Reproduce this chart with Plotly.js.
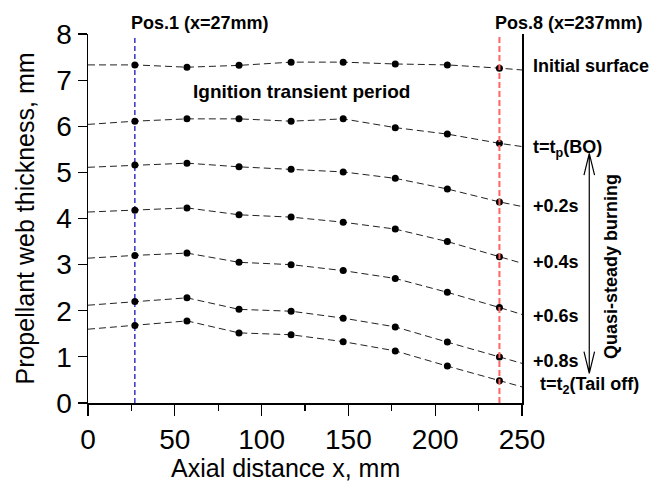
<!DOCTYPE html>
<html>
<head>
<meta charset="utf-8">
<script src="https://cdn.plot.ly/plotly-3.0.1.min.js"></script>
<style>html,body{margin:0;padding:0;background:#fff;}#chart{width:664px;height:482px;}</style>
</head>
<body>
<div id="chart"></div>
<script>
// Measurement positions (mm) where the markers sit
const positions = [27, 57, 87, 117, 147, 177, 207, 237];
// Dashed profile lines run across the whole axis (x = 0 ... 250)
const lineX = [0, 27, 57, 87, 117, 147, 177, 207, 237, 250];

const seriesNames = ["Initial surface", "t=tp(BO)", "+0.2s", "+0.4s", "+0.6s", "+0.8s", "t=t2(Tail off)"];
const labelTexts = ["Initial surface", "t=t<sub>p</sub>(BO)", "+0.2s", "+0.4s", "+0.6s", "+0.8s", "t=t<sub>2</sub>(Tail off)"];

// Web thickness (mm) along the dashed lines (first and last entries: line ends at x=0 and x=250)
const initialSurface = [7.33, 7.33, 7.28, 7.32, 7.39, 7.39, 7.35, 7.33, 7.26, 7.22];
const tpBO          = [6.04, 6.11, 6.16, 6.16, 6.11, 6.16, 5.97, 5.83, 5.63, 5.56];
const plus02        = [5.11, 5.16, 5.20, 5.12, 5.07, 5.01, 4.87, 4.64, 4.36, 4.26];
const plus04        = [4.14, 4.18, 4.23, 4.08, 4.03, 3.92, 3.77, 3.50, 3.17, 3.03];
const plus06        = [3.14, 3.20, 3.25, 3.05, 3.00, 2.87, 2.70, 2.40, 2.07, 1.92];
const plus08        = [2.12, 2.20, 2.28, 2.03, 1.99, 1.84, 1.65, 1.32, 1.00, 0.86];
const tailOff       = [1.60, 1.68, 1.78, 1.52, 1.48, 1.33, 1.13, 0.80, 0.48, 0.35];
const allSeries = [initialSurface, tpBO, plus02, plus04, plus06, plus08, tailOff];

// Label anchor heights (mm) for the right-hand series labels
const labelY = [7.31, 5.52, 4.27, 3.06, 1.89, 0.90, 0.39];

// Reference position lines
const pos1X = 27, pos8X = 237;
const posLineY = [0, 7.95];

const X_MAX = 250, Y_MAX = 8;
const FONT = "Liberation Sans, Arial, Helvetica, sans-serif";
const traces = [];

traces.push({
  x: [pos1X, pos1X], y: posLineY, mode: "lines", showlegend: false, hoverinfo: "skip",
  line: {color: "#0000b4", width: 1.2, dash: "5px,3px"}
});

allSeries.forEach((vals, i) => {
  traces.push({
    x: lineX, y: vals, mode: "lines", name: seriesNames[i], showlegend: false,
    line: {color: "#222222", width: 1, dash: "7px,4px"}
  });
  traces.push({
    x: positions, y: vals.slice(1, vals.length - 1), mode: "markers", name: seriesNames[i], showlegend: false,
    marker: {color: "#000000", size: 7}
  });
});

traces.push({
  x: [pos8X, pos8X], y: posLineY, mode: "lines", showlegend: false, hoverinfo: "skip",
  line: {color: "#ff6464", width: 2, dash: "6px,3px"}
});

const annFont = {family: FONT, size: 18, color: "#000"};
const annotations = [];
labelTexts.forEach((t, i) => {
  annotations.push({
    x: (i === 6 ? 1.0369 : 1.0207), y: labelY[i] / Y_MAX, xref: "paper", yref: "paper",
    text: "<b>" + t + "</b>", showarrow: false, xanchor: "left", yanchor: "middle",
    font: annFont
  });
});
annotations.push({x: 64.3 / X_MAX, y: 8.23 / Y_MAX, xref: "paper", yref: "paper", text: "<b>Pos.1 (x=27mm)</b>", showarrow: false, xanchor: "center", yanchor: "middle", font: annFont});
annotations.push({x: 277.3 / X_MAX, y: 8.23 / Y_MAX, xref: "paper", yref: "paper", text: "<b>Pos.8 (x=237mm)</b>", showarrow: false, xanchor: "center", yanchor: "middle", font: annFont});
annotations.push({x: 122.7 / X_MAX, y: 6.75 / Y_MAX, xref: "paper", yref: "paper", text: "<b>Ignition transient period</b>", showarrow: false, xanchor: "center", yanchor: "middle", font: {family: FONT, size: 19, color: "#000"}});
annotations.push({x: 1.205, y: 0.371, xref: "paper", yref: "paper", text: "<b>Quasi-steady burning</b>", textangle: -90, showarrow: false, xanchor: "center", yanchor: "middle", font: annFont});
// x-axis title (placed slightly left of centre, as in the reference)
annotations.push({x: 0.454, y: -0.176, xref: "paper", yref: "paper", text: "Axial distance x, mm", showarrow: false, xanchor: "center", yanchor: "middle", font: {family: FONT, size: 25, color: "#000"}});

const ax = 1.155, yTop = 0.6767, yBot = 0.0805, dx = 0.0122, dy = 0.0589;
const arrowPath = `M ${ax},${yBot} L ${ax},${yTop} M ${ax-dx},${yTop-dy} L ${ax},${yTop} L ${ax+dx},${yTop-dy} M ${ax-dx},${yBot+dy} L ${ax},${yBot} L ${ax+dx},${yBot+dy}`;

const layout = {
  width: 664, height: 482, autosize: false,
  margin: {l: 88, r: 142, t: 34, b: 79, pad: 0},
  paper_bgcolor: "#fff", plot_bgcolor: "#fff",
  font: {family: FONT, color: "#000"},
  showlegend: false,
  xaxis: {
    range: [0, X_MAX], tickvals: [0, 50, 100, 150, 200, 250], ticks: "outside", ticklen: 11, tickwidth: 1.2, tickcolor: "#000",
    minor: {dtick: 25, tick0: 0, ticks: "outside", ticklen: 6, tickcolor: "#000", showgrid: false},
    showline: true, linecolor: "#000", linewidth: 1.5, mirror: false, showgrid: false, zeroline: false,
    tickfont: {family: FONT, size: 28, color: "#000"}
  },
  yaxis: {
    range: [0, Y_MAX], dtick: 1, tick0: 0, ticks: "outside", ticklen: 9, tickwidth: 1.2, tickcolor: "#000",
    showline: true, linecolor: "#000", linewidth: 1.5, mirror: true, showgrid: false, zeroline: false,
    tickfont: {family: FONT, size: 28, color: "#000"},
    title: {text: "Propellant web thickness, mm", font: {family: FONT, size: 25, color: "#000"}, standoff: 14}
  },
  annotations: annotations,
  shapes: [{type: "path", xref: "paper", yref: "paper", path: arrowPath, line: {color: "#000", width: 1.2}}]
};

Plotly.newPlot("chart", traces, layout, {displayModeBar: false, staticPlot: true});
</script>
</body>
</html>
